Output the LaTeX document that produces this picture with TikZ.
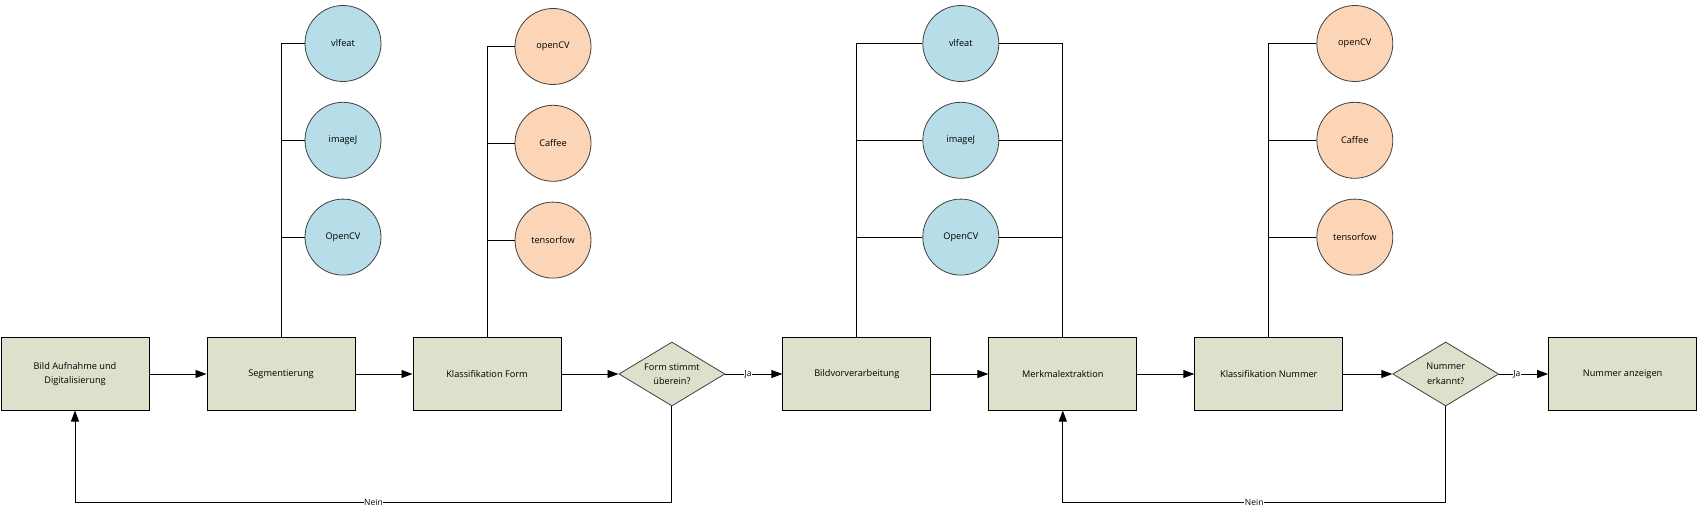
\documentclass[tikz,border=0pt]{standalone}
\usepackage{fontspec}
\setmainfont{Open Sans}
\usetikzlibrary{positioning}
\usetikzlibrary{arrows.meta,shapes.geometric}

\definecolor{schrittgruen}{HTML}{DDE1CC}
\definecolor{werkblau}{HTML}{B7DDE8}
\definecolor{werkorange}{HTML}{FBD5B5}

\tikzset{
  schritt/.style={draw, line width=1pt, fill=schrittgruen, minimum width=148pt,
    minimum height=72pt, inner sep=2pt, align=center},
  frage/.style={diamond, draw=black!75, line width=0.8pt, fill=schrittgruen,
    minimum width=106pt, minimum height=64pt, aspect=1.66, inner sep=0pt, align=center},
  werkzeug/.style={circle, draw=black!75, line width=0.8pt, minimum size=76pt, inner sep=0pt},
  marke/.style={fill=white, inner sep=0.6pt, font=\fontsize{8.5}{10}\selectfont}
}

\begin{document}
\begin{tikzpicture}[->,>={Triangle[length=11pt,width=8pt]},line width=0.9pt,x=1pt,y=1pt,
        node distance=57pt,font=\fontsize{9.2}{14.5}\selectfont]
\useasboundingbox (0,0) rectangle (1701,520);

\node[schritt] (bild) at (75,146) {Bild Aufnahme und\\Digitalisierung};
 \node[schritt] (seg) [right=of bild] {Segmentierung};
 \node[schritt] (klform) [right=of seg] {Klassifikation Form};
 \node[frage] (form) [right=of klform] {Form stimmt\\überein?};
 \node[schritt] (vor) [right=of form] {Bildvorverarbeitung};
 \node[schritt] (merk) [right=of vor] {Merkmalextraktion};
 \node[schritt] (klnr) [right=of merk] {Klassifikation Nummer};
 \node[frage] (nr) [right=49pt of klnr] {Nummer\\erkannt?};
 \node[schritt] (anz) [right=49pt of nr] {Nummer anzeigen};

% Werkzeuge Segmentierung
 \node[werkzeug, fill=werkblau] (ocv1) [above=62pt of seg.north, xshift=62pt] {OpenCV};
 \node[werkzeug, fill=werkblau] (ij1) [above=20pt of ocv1] {imageJ};
 \node[werkzeug, fill=werkblau] (vl1) [above=20pt of ij1] {vlfeat};

% Werkzeuge Klassifikation Form
 \node[werkzeug, fill=werkorange] (tf1) [above=59pt of klform.north, xshift=66pt] {tensorfow};
 \node[werkzeug, fill=werkorange] (caf1) [above=20pt of tf1] {Caffee};
 \node[werkzeug, fill=werkorange] (ocv2) [above=20pt of caf1] {openCV};

% Werkzeuge Bildvorverarbeitung / Merkmalextraktion
 \node[werkzeug, fill=werkblau] (ocv3) [above=62pt of vor.north, xshift=104pt] {OpenCV};
 \node[werkzeug, fill=werkblau] (ij2) [above=20pt of ocv3] {imageJ};
 \node[werkzeug, fill=werkblau] (vl2) [above=20pt of ij2] {vlfeat};

% Werkzeuge Klassifikation Nummer
 \node[werkzeug, fill=werkorange] (tf2) [above=62pt of klnr.north, xshift=86pt] {tensorfow};
 \node[werkzeug, fill=werkorange] (caf2) [above=20pt of tf2] {Caffee};
 \node[werkzeug, fill=werkorange] (ocv4) [above=20pt of caf2] {openCV};

 \path (bild) edge (seg)
       (seg) edge (klform)
       (klform) edge (form)
       (form) edge node[marke, pos=0.4] {Ja} (vor)
       (vor) edge (merk)
       (merk) edge (klnr)
       (klnr) edge (nr)
       (nr) edge node[marke, pos=0.36] {Ja} (anz);

 \draw[-] (seg.north) |- (vl1.west) (seg.north) |- (ij1.west) (seg.north) |- (ocv1.west);
 \draw[-] (klform.north) |- (ocv2.west) (klform.north) |- (caf1.west) (klform.north) |- (tf1.west);
 \draw[-] (vor.north) |- (vl2.west) (vor.north) |- (ij2.west) (vor.north) |- (ocv3.west);
 \draw[-] (merk.north) |- (vl2.east) (merk.north) |- (ij2.east) (merk.north) |- (ocv3.east);
 \draw[-] (klnr.north) |- (ocv4.west) (klnr.north) |- (caf2.west) (klnr.north) |- (tf2.west);

 \draw (form.south) -- ++(0,-96) -| node[marke, pos=0.25] {Nein} (bild.south);
 \draw (nr.south) -- ++(0,-96) -| node[marke, pos=0.25] {Nein} (merk.south);

\end{tikzpicture}
\end{document}
